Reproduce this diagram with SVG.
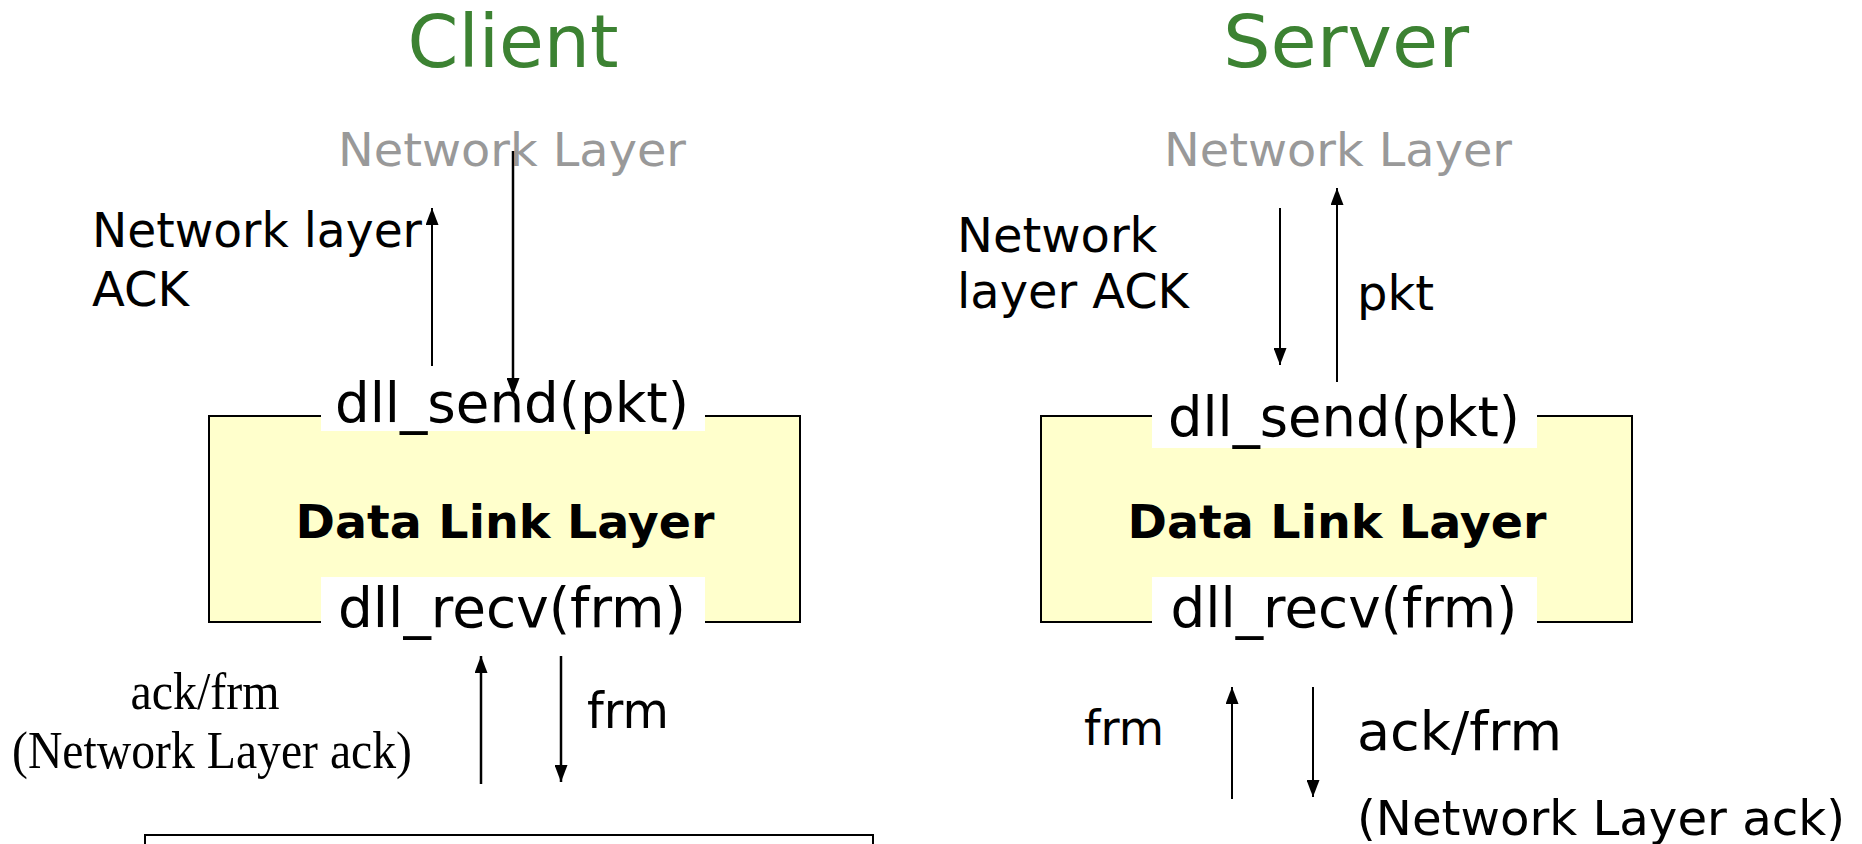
<svg xmlns="http://www.w3.org/2000/svg" width="1862" height="844" viewBox="0 0 1862 844">
<style>
.title{font-family:"DejaVu Sans",Verdana,sans-serif;font-size:73px;fill:#3c8232;text-anchor:middle}
.nl{font-family:"DejaVu Sans",Verdana,sans-serif;font-size:46px;fill:#999999;text-anchor:middle}
.lbl{font-family:"DejaVu Sans",Verdana,sans-serif;font-size:48px;fill:#000}
.fn{font-family:"DejaVu Sans",Verdana,sans-serif;font-size:55px;fill:#000;text-anchor:middle}
.dll{font-family:"DejaVu Sans",Verdana,sans-serif;font-size:47px;font-weight:bold;fill:#000;text-anchor:middle}
.serif{font-family:"Liberation Serif","Times New Roman",serif;font-size:52px;fill:#000;text-anchor:middle}
.box{fill:#ffffcc;stroke:#000;stroke-width:2}
.mask{fill:#ffffff;stroke:none}
.arr{stroke:#000;stroke-width:2;fill:none;marker-end:url(#ah)}
</style>
<defs>
<marker id="ah" viewBox="0 0 10 10" refX="10" refY="5" markerWidth="17" markerHeight="13" markerUnits="userSpaceOnUse" orient="auto" preserveAspectRatio="none">
<path d="M0,0 L10,5 L0,10 z" fill="#000"/>
</marker>
</defs>
<rect width="1862" height="844" fill="#ffffff"/>

<g id="client-title"><text class="title" x="513" y="67" textLength="211" lengthAdjust="spacingAndGlyphs">Client</text></g>
<g id="server-title"><text class="title" x="1346" y="67" textLength="246" lengthAdjust="spacingAndGlyphs">Server</text></g>

<g id="client-network-layer"><text class="nl" x="512" y="166" textLength="348" lengthAdjust="spacingAndGlyphs">Network Layer</text></g>
<g id="server-network-layer"><text class="nl" x="1338" y="166" textLength="348" lengthAdjust="spacingAndGlyphs">Network Layer</text></g>

<g id="client-ack-label">
<text class="lbl" x="92" y="247" textLength="330" lengthAdjust="spacingAndGlyphs">Network layer</text>
<text class="lbl" x="92" y="306">ACK</text>
</g>
<g id="server-ack-label">
<text class="lbl" x="957" y="252">Network</text>
<text class="lbl" x="957" y="308" textLength="232" lengthAdjust="spacingAndGlyphs">layer ACK</text>
</g>
<g id="server-pkt-label"><text class="lbl" x="1357" y="310">pkt</text></g>

<g id="client-dll">
<rect class="box" x="209" y="416" width="591" height="206"/>
<rect class="mask" x="321" y="380" width="384" height="51"/>
<rect class="mask" x="321" y="577" width="384" height="66"/>
<text class="fn" x="512" y="422" textLength="354" lengthAdjust="spacingAndGlyphs">dll_send(pkt)</text>
<text class="dll" x="505" y="538" textLength="419" lengthAdjust="spacingAndGlyphs">Data Link Layer</text>
<text class="fn" x="512" y="627" textLength="348" lengthAdjust="spacingAndGlyphs">dll_recv(frm)</text>
</g>

<g id="server-dll">
<rect class="box" x="1041" y="416" width="591" height="206"/>
<rect class="mask" x="1152" y="390" width="385" height="58"/>
<rect class="mask" x="1152" y="577" width="385" height="66"/>
<text class="fn" x="1344" y="436" textLength="352" lengthAdjust="spacingAndGlyphs">dll_send(pkt)</text>
<text class="dll" x="1337" y="538" textLength="419" lengthAdjust="spacingAndGlyphs">Data Link Layer</text>
<text class="fn" x="1344" y="627" textLength="347" lengthAdjust="spacingAndGlyphs">dll_recv(frm)</text>
</g>

<g id="client-bottom-labels">
<text class="serif" x="205" y="709" textLength="149" lengthAdjust="spacingAndGlyphs">ack/frm</text>
<text class="serif" x="212" y="768" textLength="400" lengthAdjust="spacingAndGlyphs">(Network Layer ack)</text>
<text class="lbl" x="587" y="728" style="font-size:50px" textLength="82" lengthAdjust="spacingAndGlyphs">frm</text>
</g>

<g id="server-bottom-labels">
<text class="lbl" x="1084" y="745" textLength="80" lengthAdjust="spacingAndGlyphs">frm</text>
<text class="lbl" x="1357" y="750" style="font-size:54px" textLength="205" lengthAdjust="spacingAndGlyphs">ack/frm</text>
<text class="lbl" x="1357" y="835" textLength="488" lengthAdjust="spacingAndGlyphs">(Network Layer ack)</text>
</g>

<g id="physical-box">
<rect x="145" y="835" width="728" height="40" fill="#ffffff" stroke="#000" stroke-width="2"/>
</g>

<g id="connectors">
<line class="arr" x1="432" y1="366" x2="432" y2="208"/>
<line class="arr" x1="513" y1="151" x2="513" y2="395" style="stroke-width:2.5"/>
<line class="arr" x1="1280" y1="208" x2="1280" y2="365"/>
<line class="arr" x1="1337" y1="382" x2="1337" y2="188"/>
<line class="arr" x1="481" y1="784" x2="481" y2="656" style="stroke-width:2.5"/>
<line class="arr" x1="561" y1="656" x2="561" y2="782" style="stroke-width:2.5"/>
<line class="arr" x1="1232" y1="799" x2="1232" y2="687"/>
<line class="arr" x1="1313" y1="687" x2="1313" y2="797"/>
</g>
</svg>
